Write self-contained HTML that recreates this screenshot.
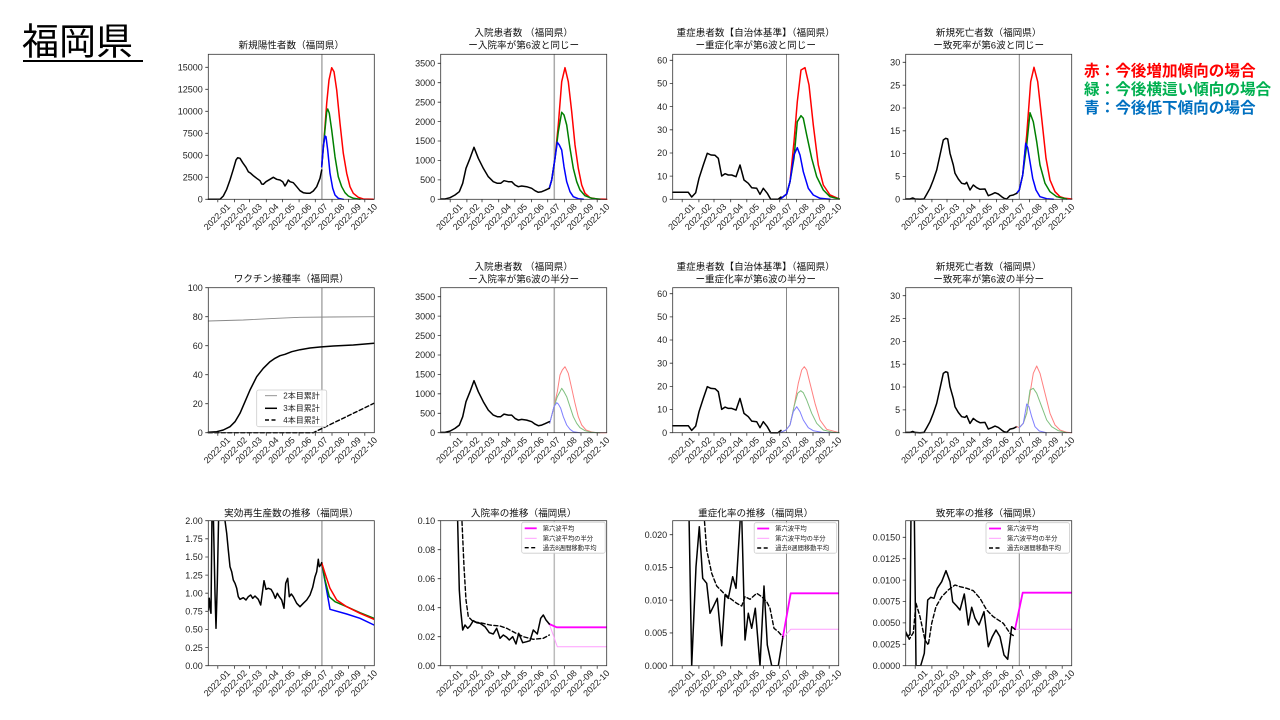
<!DOCTYPE html>
<html><head><meta charset="utf-8">
<style>
html,body{margin:0;padding:0;background:#fff;}
svg{display:block;}
text{font-family:"Liberation Sans","Noto Sans CJK JP",sans-serif;fill:#222;}
.t{font-family:"Liberation Sans","Noto Sans CJK JP",sans-serif;font-size:9.6px;text-anchor:middle;fill:#111;}
.yl{font-size:9px;text-anchor:end;}
.xl text{font-size:9px;text-anchor:end;}
.fr{fill:none;stroke:#333;stroke-width:0.8;}
.tk{stroke:#333;stroke-width:0.8;fill:none;}
.ln{fill:none;stroke-linejoin:round;stroke-linecap:round;}
.k{stroke:#000;stroke-width:1.5;}
.r{stroke:#ff0000;stroke-width:1.5;}
.g{stroke:#008000;stroke-width:1.5;}
.b{stroke:#0000ff;stroke-width:1.5;}
.rl{stroke:#ff8080;stroke-width:1;}
.gl{stroke:#80c080;stroke-width:1;}
.bl{stroke:#8080ff;stroke-width:1;}
.m{stroke:#ff00ff;stroke-width:1.8;}
.ml{stroke:#ff9eff;stroke-width:1;}
.d{stroke:#000;stroke-width:1.4;stroke-dasharray:4,2.5;}
.lg text{font-size:6.3px;}
</style></head>
<body>
<svg width="1280" height="720" viewBox="0 0 1280 720" xmlns="http://www.w3.org/2000/svg">
<defs>
<clipPath id="c9"><rect x="208.3" y="520.7" width="166" height="145"/></clipPath>
<clipPath id="c10"><rect x="440.7" y="520.7" width="166" height="145"/></clipPath>
<clipPath id="c11"><rect x="672.7" y="520.7" width="166" height="145"/></clipPath>
<clipPath id="c12"><rect x="905.7" y="520.7" width="166" height="145"/></clipPath>
</defs>

<!-- Main title -->
<text x="22" y="54.5" style="font-family:'Noto Sans CJK JP',sans-serif;font-size:37px;fill:#000;">福岡県</text>
<rect x="23" y="60" width="120" height="2" fill="#000"/>

<!-- Right legend -->
<text x="1084" y="76" style="font-family:'Noto Sans CJK JP',sans-serif;font-size:15.6px;font-weight:bold;fill:#ff0000;">赤：今後増加傾向の場合</text>
<text x="1084" y="94.5" style="font-family:'Noto Sans CJK JP',sans-serif;font-size:15.6px;font-weight:bold;fill:#00b050;">緑：今後横這い傾向の場合</text>
<text x="1084" y="113" style="font-family:'Noto Sans CJK JP',sans-serif;font-size:15.6px;font-weight:bold;fill:#0070c0;">青：今後低下傾向の場合</text>

<!-- Titles -->
<text class="t" x="291.3" y="48.5">新規陽性者数（福岡県）</text>
<text class="t" x="523.7" y="36">入院患者数 （福岡県）</text>
<text class="t" x="523.7" y="48.5">ー入院率が第6波と同じー</text>
<text class="t" x="755.7" y="36">重症患者数【自治体基準】（福岡県）</text>
<text class="t" x="755.7" y="48.5">ー重症化率が第6波と同じー</text>
<text class="t" x="988.7" y="36">新規死亡者数（福岡県）</text>
<text class="t" x="988.7" y="48.5">ー致死率が第6波と同じー</text>

<text class="t" x="291.3" y="282">ワクチン接種率（福岡県）</text>
<text class="t" x="523.7" y="270">入院患者数 （福岡県）</text>
<text class="t" x="523.7" y="282.5">ー入院率が第6波の半分ー</text>
<text class="t" x="755.7" y="270">重症患者数【自治体基準】（福岡県）</text>
<text class="t" x="755.7" y="282.5">ー重症化率が第6波の半分ー</text>
<text class="t" x="988.7" y="270">新規死亡者数（福岡県）</text>
<text class="t" x="988.7" y="282.5">ー致死率が第6波の半分ー</text>

<text class="t" x="291.3" y="516.3">実効再生産数の推移（福岡県）</text>
<text class="t" x="523.7" y="516.3">入院率の推移（福岡県）</text>
<text class="t" x="755.7" y="516.3">重症化率の推移（福岡県）</text>
<text class="t" x="988.7" y="516.3">致死率の推移（福岡県）</text>

<!-- Gray vertical lines -->
<g>
<line x1="321.9" y1="54.3" x2="321.9" y2="199.3" stroke="#aaa" stroke-width="1.5"/>
<line x1="554.3" y1="54.3" x2="554.3" y2="199.3" stroke="#aaa" stroke-width="1.5"/>
<line x1="786.5" y1="54.3" x2="786.5" y2="199.3" stroke="#888" stroke-width="1"/>
<line x1="1019.3" y1="54.3" x2="1019.3" y2="199.3" stroke="#888" stroke-width="1"/>
<line x1="321.9" y1="287.7" x2="321.9" y2="432.7" stroke="#aaa" stroke-width="1.5"/>
<line x1="554.3" y1="287.7" x2="554.3" y2="432.7" stroke="#aaa" stroke-width="1.5"/>
<line x1="786.5" y1="287.7" x2="786.5" y2="432.7" stroke="#888" stroke-width="1"/>
<line x1="1019.3" y1="287.7" x2="1019.3" y2="432.7" stroke="#888" stroke-width="1"/>
<line x1="321.9" y1="520.7" x2="321.9" y2="665.7" stroke="#aaa" stroke-width="1.5"/>
<line x1="554.3" y1="520.7" x2="554.3" y2="665.7" stroke="#bbb" stroke-width="1.5"/>
<line x1="786.5" y1="520.7" x2="786.5" y2="665.7" stroke="#888" stroke-width="1"/>
<line x1="1019.3" y1="520.7" x2="1019.3" y2="665.7" stroke="#888" stroke-width="1"/>
</g>

<!-- ===== Row 1 data ===== -->
<!-- Chart 1 -->
<polyline class="ln r" points="321.7,166.7 324,140 326.7,103.3 329,80 331.7,67.7 334,71.7 336.7,90 340,123.3 343.3,153.3 346.7,173.3 350,186.7 353.3,193.3 358.3,197.3 363.3,199 373.3,199.3"/>
<polyline class="ln g" points="321.7,166.7 324,140 326.7,111.7 327.7,109 329.3,113.3 331.7,130 335,156.7 338.3,176.7 341.7,186.7 345,192.7 348.3,196 353.3,198.3 360,199.3"/>
<polyline class="ln b" points="321.7,166.7 323.3,146.7 325,136 326,136.7 327.7,150 330,173.3 332.7,188.3 335,195 338.3,198.3 343.3,199.3"/>
<polyline class="ln k" points="208.3,199.3 220,199.3 223.3,196 226.7,189.3 230,180 233.3,169.3 236,160 237.7,157.7 240,158.3 242.7,162.7 246,167.3 248.3,171.7 250.7,173.3 253.3,175.7 256.7,178.3 260,180.7 261.7,184 263.3,184.3 266,181.7 270,179.3 273.3,177.3 276.7,179.3 280,180 282.7,181.7 285,186 286.7,183.3 288.3,180 290,181.7 293.3,182.7 296.7,186.7 300,190.7 303.3,192.7 306.7,193.3 310,193.3 313.3,191 316.7,186.7 320,178.3 321.7,170"/>

<!-- Chart 2 -->
<polyline class="ln r" points="549.3,188.3 551.7,180 555,158.3 558.3,125 561.7,81.7 565,67.7 568.3,81.7 571.7,111.7 575,145 578.3,168.3 581.7,185 585,193.3 590,197.7 596.7,199 606.7,199.3"/>
<polyline class="ln g" points="549.3,188.3 551.7,180 555,158.3 558.3,131.7 561.7,112.3 564,115 566.7,125 570,148.3 573.3,168.3 576.7,181.7 580,190 585,195.7 591.7,198.3 600,199.3"/>
<polyline class="ln b" points="549.3,188.3 551.7,180 555,158.3 557.3,142.3 559.3,145 561.7,150 564,166.7 566.7,181.7 570,191.7 573.3,196.7 578.3,198.7 583.3,199.3"/>
<polyline id="k2" class="ln k" points="440.7,199 445,199 450,197.7 455,195 459.3,191.7 462.7,183.3 466,168.3 470,158.3 474,147.3 478.3,158.3 483.3,168.3 488.3,176.7 493.3,181.7 497.3,183.3 500.7,183.3 504,180.7 508.3,181.7 511.7,181.7 515,185 518.3,186.7 521.7,186 526.7,186.7 531.7,188.3 535,190.7 538.3,192.3 541.7,191.7 545,190.3 549.3,188.3"/>

<!-- Chart 3 -->
<polyline class="ln r" points="780,199.3 786.7,194 790,181.7 794,141.7 797.3,101.7 801,70 805,67.7 809,85 813.3,125 818.3,165 823.3,185 830,195 839.3,199"/>
<polyline class="ln g" points="780,199.3 786.7,194 790,181.7 794,158.3 797.3,121.7 801,115.7 803.3,118.3 806.7,135 811.7,158.3 816.7,176.7 823.3,190 830,196.7 839.3,199"/>
<polyline class="ln b" points="780,199.3 786.7,194 790,181.7 794,155 797.3,147.7 800,155 803.3,171.7 808.3,188.3 813.3,195 820,198.3 830,199.3"/>
<polyline class="ln k" points="672.7,192.3 688.3,192.3 691.7,197 695.7,192.7 699,178.3 703.3,165 707.3,153.3 711,155 715,155.3 718.3,158.3 721.7,176 725,173.7 728.3,175 731.7,175 736,176.7 740,165 744,180 748.3,183.3 751.7,187.7 756.7,188.3 760,194.3 763.3,188.3 767.3,193.3 770.7,199.3 778,199.3 781,197"/>

<!-- Chart 4 -->
<polyline class="ln r" points="1016.7,193.3 1019.3,190 1022.7,175 1026.7,135 1030.7,81.7 1034,67.3 1037.7,81.7 1041.7,118.3 1046,158.3 1050,180 1055,191.7 1060,196.7 1065,198.3 1071.7,199"/>
<polyline class="ln g" points="1016.7,193.3 1019.3,190 1022.7,175 1026.7,145 1030,112.7 1033.3,121.7 1036.7,141.7 1040,165 1045,183.3 1050,191.7 1056.7,196.7 1066.7,199"/>
<polyline class="ln b" points="1016.7,193.3 1019.3,190 1022.7,175 1025.7,143.3 1027.7,147.7 1030,161.7 1032.7,178.3 1036,190 1040,196.7 1046.7,198.7 1053.3,199.3"/>
<polyline class="ln k" points="905.7,199 910,199 912.7,198 915,199 920,199.3 924,199 926.7,194.3 930,188.3 933.3,180 936.7,170 940,155 943.3,140 945.7,138.3 947.7,139 950,153.3 953.3,165 955,173.3 958.3,179 961.7,183.3 965,184 966.7,182.3 970,190 973.3,185 976.7,187.7 980,189.3 985,189 988.3,195.7 991.7,194.3 995,192.7 998.3,194 1001.7,196.7 1004,198.3 1006.7,199 1010,195.7 1013.3,195 1016.7,193.3"/>

<!-- ===== Row 2 data ===== -->
<!-- Chart 5 vaccine -->
<polyline class="ln" stroke="#888" stroke-width="0.9" points="208.3,321 243.3,320 276.7,318.3 300,317.3 330,317 374,316.7"/>
<polyline class="ln k" points="208.3,432.3 216.7,431.7 223.3,430 230,426.7 235,421.7 240,413.3 245,401.7 250,390 256.7,376.7 263.3,368.3 270,361.7 275,358.3 280,355.7 285,354.3 291.7,351.7 300,349.7 310,348 320,347 333.3,346 353.3,345 374,343.3"/>
<polyline class="ln d" points="208.3,432.7 313.3,432.7 374,403.3"/>

<!-- Chart 6 -->
<polyline class="ln rl" points="549.7,423.3 554,406.7 557.3,391.7 560,375 562.3,370 565,366.7 568.3,373.3 571.7,388.3 575,403.3 578.3,416.7 581.7,425 586,430 591.7,432 596.7,432.7 606.7,432.7"/>
<polyline class="ln gl" points="549.7,423.3 554,406.7 557.3,396.7 560,391.7 561.7,388.3 564,391.7 566.7,396.7 570,406.7 573.3,416.7 576.7,423.3 580,427.7 585,430.7 591.7,432.3 600,432.7"/>
<polyline class="ln bl" points="549.7,423.3 554,406.7 556.7,402.7 558.3,404 560.7,408.3 563.3,416.7 566.7,425 570,429.3 573.3,431.7 580,432.7"/>
<g transform="translate(0,233.4)">
<polyline class="ln k" points="440.7,199 445,199 450,197.7 455,195 459.3,191.7 462.7,183.3 466,168.3 470,158.3 474,147.3 478.3,158.3 483.3,168.3 488.3,176.7 493.3,181.7 497.3,183.3 500.7,183.3 504,180.7 508.3,181.7 511.7,181.7 515,185 518.3,186.7 521.7,186 526.7,186.7 531.7,188.3 535,190.7 538.3,192.3 541.7,191.7 545,190.3 549.3,188.3"/>
<polyline class="ln k" points="672.7,192.3 688.3,192.3 691.7,197 695.7,192.7 699,178.3 703.3,165 707.3,153.3 711,155 715,155.3 718.3,158.3 721.7,176 725,173.7 728.3,175 731.7,175 736,176.7 740,165 744,180 748.3,183.3 751.7,187.7 756.7,188.3 760,194.3 763.3,188.3 767.3,193.3 770.7,199.3 778,199.3 781,197"/>
<polyline class="ln k" points="905.7,199 910,199 912.7,198 915,199 920,199.3 924,199 926.7,194.3 930,188.3 933.3,180 936.7,170 940,155 943.3,140 945.7,138.3 947.7,139 950,153.3 953.3,165 955,173.3 958.3,179 961.7,183.3 965,184 966.7,182.3 970,190 973.3,185 976.7,187.7 980,189.3 985,189 988.3,195.7 991.7,194.3 995,192.7 998.3,194 1001.7,196.7 1004,198.3 1006.7,199 1010,195.7 1013.3,195 1016.7,193.3"/>
</g>

<!-- Chart 7 -->
<polyline class="ln rl" points="780,432.7 786,430 790,425 794,406.7 798.3,383.3 801.7,370 804.3,366.7 806.7,370 810,383.3 815,403.3 820,420 826.7,429.3 839.3,432.7"/>
<polyline class="ln gl" points="780,432.7 786,430 790,425 794,406.7 797.7,393.3 800.7,390.7 803.3,392.7 806.7,400 811.7,413.3 816.7,423.3 823.3,430 833.3,432.3 839.3,432.7"/>
<polyline class="ln bl" points="780,432.7 786,430 790,425 793.3,411.7 796.7,406.7 800,411.7 803.3,420 808.3,427.7 813.3,430.7 821.7,432.3 830,432.7"/>

<!-- Chart 8 -->
<polyline class="ln rl" points="1016.7,426.7 1019.3,427.7 1023.3,423.3 1026.7,413.3 1030,393.3 1033.3,373.3 1036.7,366 1040,373.3 1045,393.3 1050,413.3 1055,425 1060,430 1066.7,432.3 1071.7,432.7"/>
<polyline class="ln gl" points="1019.3,427.7 1023.3,423.3 1026.7,413.3 1030,390 1033.3,388.3 1036.7,393.3 1041.7,406.7 1046.7,420 1051.7,426.7 1058.3,430.7 1066.7,432.7"/>
<polyline class="ln bl" points="1019.3,427.7 1023.3,423.3 1026.7,404 1029,406.7 1031.7,416.7 1035,426.7 1039.3,431 1046.7,432.7"/>

<!-- ===== Row 3 data ===== -->
<g clip-path="url(#c9)">
<polyline class="ln b" points="321.7,563.3 325.7,585 330,609.3 346.7,614 360,618.3 374,625"/>
<polyline class="ln g" points="321.7,562.7 325,580 329.3,596.7 335,601.7 346.7,606.7 360,612.7 374,618.3"/>
<polyline class="ln r" points="321.7,562.7 325,573.3 330,588.3 336.7,600 346.7,606.7 360,613.3 374,619.3"/>
<polyline class="ln k" points="208.3,610 209.3,598.3 210.3,610 211,613.3 212,513.3 213.3,513.3 215,593.3 216,628.3 217.3,583.3 218.7,513.3 223.3,513.3 225,520.7 226.7,533.3 228.3,550 230,566.7 231.7,571.7 233.3,580 235,583.3 236.7,588.3 238.3,596.7 240,599.3 243.3,597.7 246,600 248.3,596.7 250.7,595 252.7,598.3 255,596 258.3,599.3 260.7,605 262.3,593.3 264,580.7 266,589.3 268.3,588.3 271,589.3 273.3,593.3 275.3,598.3 277.3,593.3 279.3,596.7 281.7,600 284,608.3 285.7,583.3 287.7,578.3 289.3,596.7 291.3,594 293.3,596.7 296.7,603.3 300,606.7 303.3,603.3 306.7,600 310,595 312.7,587.3 315,576.7 316.7,571.7 318.3,559.3 319.3,566.7 320.7,565 321.7,562.7"/>
</g>
<g clip-path="url(#c10)">
<polyline class="ln ml" points="549.3,624 557.3,646.7 606.7,646.7"/>
<polyline class="ln m" points="549.3,624 556.7,627.3 606.7,627.3"/>
<polyline class="ln d" points="461.7,515 464,566.7 466,600 468.3,616.7 473.3,621.7 480,622.7 490,625 500,626 506.7,628.3 515,632.7 523.3,636.7 533.3,639.3 543.3,638.3 549.3,635"/>
<polyline class="ln k" points="457.5,515 459.3,590 460.7,610 462.7,630 465,625 467.7,628.3 470,626 473.3,620.7 476.7,622.7 480,623.3 485,626.7 489.3,632.7 493.3,634 496.7,628.3 500,638.3 503.3,635 506.7,637.3 509.3,640 512.7,636.7 516,644 518.7,633.3 522.7,642.7 526.7,641.7 530,640.7 533.3,630 537.3,634 540.7,618.3 543.3,615 546,620 549.3,624"/>
</g>
<g clip-path="url(#c11)">
<polyline class="ln ml" points="782.7,638.3 790.7,629.3 839.3,629.3"/>
<polyline class="ln m" points="782.7,638.3 790.7,593.3 839.3,593.3"/>
<polyline class="ln d" points="704,515 706.7,550 711.7,573.3 716.7,586 723.3,592.7 730,598.3 736.7,603.3 741.7,606 745,596.7 750,599.3 756.7,593.3 761.7,596.7 766.7,601.7 770,608.3 774,628.3 778.3,631.7 782.7,636.7"/>
<polyline class="ln k" points="689,515 691.7,665.7 696,566.7 699.3,526.7 702.7,578.3 706.7,583.3 710,613.3 713.3,606.7 717.3,598.3 721.7,645.7 725,595 728.3,598.3 732.7,576.7 736,588.3 740.5,515 741.7,515 745,640 748.3,613.3 751.7,628.3 755.3,608.3 760,665.7 764,586 767.3,645 771.7,665.7 778.3,665.7 782.7,638.3"/>
</g>
<g clip-path="url(#c12)">
<polyline class="ln ml" points="1015,629.3 1072.3,629.3"/>
<polyline class="ln m" points="1015,629.3 1022.7,592.7 1072.3,592.7"/>
<polyline class="ln d" points="905.7,631.7 909.3,639.3 913.3,632.7 916,603.3 920,616.7 925,640 928.3,645 931.7,623.3 936,606.7 941.7,596.7 948.3,590 955,585 960,586.7 966.7,588.3 973.3,590.7 980,598.3 986.7,610 993.3,616.7 1003.3,623.3 1010,633.3 1015,636.7"/>
<polyline class="ln k" points="905.7,633.3 907.7,636.7 910,634.3 911,513 914.3,513 916,665.7 920.7,665.7 924.3,653.3 927.7,600 930.7,597.3 934,598.3 937.3,588.3 941.7,581.7 946,570.7 950,581.7 952.7,601.7 956.7,606 960,610 964.3,594 968.3,625 971.7,607.3 975,618.3 979,625 984,611.7 988.3,646.7 992.3,636.7 996,630 1000,636.7 1004,655 1007.7,659.3 1011.7,626.7 1015,629.3"/>
</g>

<!-- ===== Frames, ticks, labels ===== -->
<!-- Chart 1 -->
<g transform="translate(208.3,54.3)">
<rect class="fr" width="166" height="145"/>
<path class="tk" d="M0,145h-3M0,123h-3M0,101h-3M0,79h-3M0,57h-3M0,35h-3M0,13h-3"/>
<path class="tk" d="M9.5,145v3M26.2,145v3M41.3,145v3M58,145v3M74.1,145v3M90.8,145v3M107,145v3M123.7,145v3M140.3,145v3M156.5,145v3"/>
<text class="yl" x="-5.5" y="148.2">0</text><text class="yl" x="-5.5" y="126.2">2500</text><text class="yl" x="-5.5" y="104.2">5000</text><text class="yl" x="-5.5" y="82.2">7500</text><text class="yl" x="-5.5" y="60.2">10000</text><text class="yl" x="-5.5" y="38.2">12500</text><text class="yl" x="-5.5" y="16.2">15000</text>
<g class="xl"><text transform="translate(22.5,153) rotate(-45)">2022-01</text><text transform="translate(39.2,153) rotate(-45)">2022-02</text><text transform="translate(54.3,153) rotate(-45)">2022-03</text><text transform="translate(71,153) rotate(-45)">2022-04</text><text transform="translate(87.1,153) rotate(-45)">2022-05</text><text transform="translate(103.8,153) rotate(-45)">2022-06</text><text transform="translate(120,153) rotate(-45)">2022-07</text><text transform="translate(136.7,153) rotate(-45)">2022-08</text><text transform="translate(153.3,153) rotate(-45)">2022-09</text><text transform="translate(169.5,153) rotate(-45)">2022-10</text></g>
</g>

<!-- Chart 2 -->
<g transform="translate(440.7,54.3)">
<rect class="fr" width="166" height="145"/>
<path class="tk" d="M0,145h-3M0,125.6h-3M0,106.1h-3M0,86.7h-3M0,67.3h-3M0,47.9h-3M0,28.4h-3M0,9h-3"/>
<path class="tk" d="M9.5,145v3M26.2,145v3M41.3,145v3M58,145v3M74.1,145v3M90.8,145v3M107,145v3M123.7,145v3M140.3,145v3M156.5,145v3"/>
<text class="yl" x="-5.5" y="148.2">0</text><text class="yl" x="-5.5" y="128.8">500</text><text class="yl" x="-5.5" y="109.3">1000</text><text class="yl" x="-5.5" y="89.9">1500</text><text class="yl" x="-5.5" y="70.5">2000</text><text class="yl" x="-5.5" y="51.1">2500</text><text class="yl" x="-5.5" y="31.6">3000</text><text class="yl" x="-5.5" y="12.2">3500</text>
<g class="xl"><text transform="translate(22.5,153) rotate(-45)">2022-01</text><text transform="translate(39.2,153) rotate(-45)">2022-02</text><text transform="translate(54.3,153) rotate(-45)">2022-03</text><text transform="translate(71,153) rotate(-45)">2022-04</text><text transform="translate(87.1,153) rotate(-45)">2022-05</text><text transform="translate(103.8,153) rotate(-45)">2022-06</text><text transform="translate(120,153) rotate(-45)">2022-07</text><text transform="translate(136.7,153) rotate(-45)">2022-08</text><text transform="translate(153.3,153) rotate(-45)">2022-09</text><text transform="translate(169.5,153) rotate(-45)">2022-10</text></g>
</g>

<!-- Chart 3 -->
<g transform="translate(672.7,54.3)">
<rect class="fr" width="166" height="145"/>
<path class="tk" d="M0,145h-3M0,121.8h-3M0,98.7h-3M0,75.5h-3M0,52.3h-3M0,29.2h-3M0,6h-3"/>
<path class="tk" d="M9.5,145v3M26.2,145v3M41.3,145v3M58,145v3M74.1,145v3M90.8,145v3M107,145v3M123.7,145v3M140.3,145v3M156.5,145v3"/>
<text class="yl" x="-5.5" y="148.2">0</text><text class="yl" x="-5.5" y="125">10</text><text class="yl" x="-5.5" y="101.9">20</text><text class="yl" x="-5.5" y="78.7">30</text><text class="yl" x="-5.5" y="55.5">40</text><text class="yl" x="-5.5" y="32.4">50</text><text class="yl" x="-5.5" y="9.2">60</text>
<g class="xl"><text transform="translate(22.5,153) rotate(-45)">2022-01</text><text transform="translate(39.2,153) rotate(-45)">2022-02</text><text transform="translate(54.3,153) rotate(-45)">2022-03</text><text transform="translate(71,153) rotate(-45)">2022-04</text><text transform="translate(87.1,153) rotate(-45)">2022-05</text><text transform="translate(103.8,153) rotate(-45)">2022-06</text><text transform="translate(120,153) rotate(-45)">2022-07</text><text transform="translate(136.7,153) rotate(-45)">2022-08</text><text transform="translate(153.3,153) rotate(-45)">2022-09</text><text transform="translate(169.5,153) rotate(-45)">2022-10</text></g>
</g>

<!-- Chart 4 -->
<g transform="translate(905.7,54.3)">
<rect class="fr" width="166" height="145"/>
<path class="tk" d="M0,145h-3M0,122.2h-3M0,99.3h-3M0,76.5h-3M0,53.7h-3M0,30.9h-3M0,8h-3"/>
<path class="tk" d="M9.5,145v3M26.2,145v3M41.3,145v3M58,145v3M74.1,145v3M90.8,145v3M107,145v3M123.7,145v3M140.3,145v3M156.5,145v3"/>
<text class="yl" x="-5.5" y="148.2">0</text><text class="yl" x="-5.5" y="125.4">5</text><text class="yl" x="-5.5" y="102.5">10</text><text class="yl" x="-5.5" y="79.7">15</text><text class="yl" x="-5.5" y="56.9">20</text><text class="yl" x="-5.5" y="34.1">25</text><text class="yl" x="-5.5" y="11.2">30</text>
<g class="xl"><text transform="translate(22.5,153) rotate(-45)">2022-01</text><text transform="translate(39.2,153) rotate(-45)">2022-02</text><text transform="translate(54.3,153) rotate(-45)">2022-03</text><text transform="translate(71,153) rotate(-45)">2022-04</text><text transform="translate(87.1,153) rotate(-45)">2022-05</text><text transform="translate(103.8,153) rotate(-45)">2022-06</text><text transform="translate(120,153) rotate(-45)">2022-07</text><text transform="translate(136.7,153) rotate(-45)">2022-08</text><text transform="translate(153.3,153) rotate(-45)">2022-09</text><text transform="translate(169.5,153) rotate(-45)">2022-10</text></g>
</g>

<!-- Chart 5 -->
<g transform="translate(208.3,287.7)">
<rect class="fr" width="166" height="145"/>
<path class="tk" d="M0,145h-3M0,116h-3M0,87h-3M0,58h-3M0,29h-3M0,0h-3"/>
<path class="tk" d="M9.5,145v3M26.2,145v3M41.3,145v3M58,145v3M74.1,145v3M90.8,145v3M107,145v3M123.7,145v3M140.3,145v3M156.5,145v3"/>
<text class="yl" x="-5.5" y="148.2">0</text><text class="yl" x="-5.5" y="119.2">20</text><text class="yl" x="-5.5" y="90.2">40</text><text class="yl" x="-5.5" y="61.2">60</text><text class="yl" x="-5.5" y="32.2">80</text><text class="yl" x="-5.5" y="3.2">100</text>
<g class="xl"><text transform="translate(22.5,153) rotate(-45)">2022-01</text><text transform="translate(39.2,153) rotate(-45)">2022-02</text><text transform="translate(54.3,153) rotate(-45)">2022-03</text><text transform="translate(71,153) rotate(-45)">2022-04</text><text transform="translate(87.1,153) rotate(-45)">2022-05</text><text transform="translate(103.8,153) rotate(-45)">2022-06</text><text transform="translate(120,153) rotate(-45)">2022-07</text><text transform="translate(136.7,153) rotate(-45)">2022-08</text><text transform="translate(153.3,153) rotate(-45)">2022-09</text><text transform="translate(169.5,153) rotate(-45)">2022-10</text></g>
<g>
<rect x="48.4" y="102.3" width="70" height="36.7" rx="2" fill="#fff" fill-opacity="0.85" stroke="#ccc" stroke-width="0.8"/>
<line x1="56.7" y1="108" x2="68.7" y2="108" stroke="#888" stroke-width="0.9"/>
<line x1="56.7" y1="120.6" x2="68.7" y2="120.6" stroke="#000" stroke-width="1.5"/>
<line x1="56.7" y1="132.3" x2="68.7" y2="132.3" stroke="#000" stroke-width="1.4" stroke-dasharray="4,2.5"/>
<text x="75" y="110.8" style="font-size:8px;">2本目累計</text>
<text x="75" y="123.4" style="font-size:8px;">3本目累計</text>
<text x="75" y="135.1" style="font-size:8px;">4本目累計</text>
</g>
</g>

<!-- Chart 6 -->
<g transform="translate(440.7,287.7)">
<rect class="fr" width="166" height="145"/>
<path class="tk" d="M0,145h-3M0,125.6h-3M0,106.1h-3M0,86.7h-3M0,67.3h-3M0,47.9h-3M0,28.4h-3M0,9h-3"/>
<path class="tk" d="M9.5,145v3M26.2,145v3M41.3,145v3M58,145v3M74.1,145v3M90.8,145v3M107,145v3M123.7,145v3M140.3,145v3M156.5,145v3"/>
<text class="yl" x="-5.5" y="148.2">0</text><text class="yl" x="-5.5" y="128.8">500</text><text class="yl" x="-5.5" y="109.3">1000</text><text class="yl" x="-5.5" y="89.9">1500</text><text class="yl" x="-5.5" y="70.5">2000</text><text class="yl" x="-5.5" y="51.1">2500</text><text class="yl" x="-5.5" y="31.6">3000</text><text class="yl" x="-5.5" y="12.2">3500</text>
<g class="xl"><text transform="translate(22.5,153) rotate(-45)">2022-01</text><text transform="translate(39.2,153) rotate(-45)">2022-02</text><text transform="translate(54.3,153) rotate(-45)">2022-03</text><text transform="translate(71,153) rotate(-45)">2022-04</text><text transform="translate(87.1,153) rotate(-45)">2022-05</text><text transform="translate(103.8,153) rotate(-45)">2022-06</text><text transform="translate(120,153) rotate(-45)">2022-07</text><text transform="translate(136.7,153) rotate(-45)">2022-08</text><text transform="translate(153.3,153) rotate(-45)">2022-09</text><text transform="translate(169.5,153) rotate(-45)">2022-10</text></g>
</g>

<!-- Chart 7 -->
<g transform="translate(672.7,287.7)">
<rect class="fr" width="166" height="145"/>
<path class="tk" d="M0,145h-3M0,121.8h-3M0,98.7h-3M0,75.5h-3M0,52.3h-3M0,29.2h-3M0,6h-3"/>
<path class="tk" d="M9.5,145v3M26.2,145v3M41.3,145v3M58,145v3M74.1,145v3M90.8,145v3M107,145v3M123.7,145v3M140.3,145v3M156.5,145v3"/>
<text class="yl" x="-5.5" y="148.2">0</text><text class="yl" x="-5.5" y="125">10</text><text class="yl" x="-5.5" y="101.9">20</text><text class="yl" x="-5.5" y="78.7">30</text><text class="yl" x="-5.5" y="55.5">40</text><text class="yl" x="-5.5" y="32.4">50</text><text class="yl" x="-5.5" y="9.2">60</text>
<g class="xl"><text transform="translate(22.5,153) rotate(-45)">2022-01</text><text transform="translate(39.2,153) rotate(-45)">2022-02</text><text transform="translate(54.3,153) rotate(-45)">2022-03</text><text transform="translate(71,153) rotate(-45)">2022-04</text><text transform="translate(87.1,153) rotate(-45)">2022-05</text><text transform="translate(103.8,153) rotate(-45)">2022-06</text><text transform="translate(120,153) rotate(-45)">2022-07</text><text transform="translate(136.7,153) rotate(-45)">2022-08</text><text transform="translate(153.3,153) rotate(-45)">2022-09</text><text transform="translate(169.5,153) rotate(-45)">2022-10</text></g>
</g>

<!-- Chart 8 -->
<g transform="translate(905.7,287.7)">
<rect class="fr" width="166" height="145"/>
<path class="tk" d="M0,145h-3M0,122.2h-3M0,99.3h-3M0,76.5h-3M0,53.7h-3M0,30.9h-3M0,8h-3"/>
<path class="tk" d="M9.5,145v3M26.2,145v3M41.3,145v3M58,145v3M74.1,145v3M90.8,145v3M107,145v3M123.7,145v3M140.3,145v3M156.5,145v3"/>
<text class="yl" x="-5.5" y="148.2">0</text><text class="yl" x="-5.5" y="125.4">5</text><text class="yl" x="-5.5" y="102.5">10</text><text class="yl" x="-5.5" y="79.7">15</text><text class="yl" x="-5.5" y="56.9">20</text><text class="yl" x="-5.5" y="34.1">25</text><text class="yl" x="-5.5" y="11.2">30</text>
<g class="xl"><text transform="translate(22.5,153) rotate(-45)">2022-01</text><text transform="translate(39.2,153) rotate(-45)">2022-02</text><text transform="translate(54.3,153) rotate(-45)">2022-03</text><text transform="translate(71,153) rotate(-45)">2022-04</text><text transform="translate(87.1,153) rotate(-45)">2022-05</text><text transform="translate(103.8,153) rotate(-45)">2022-06</text><text transform="translate(120,153) rotate(-45)">2022-07</text><text transform="translate(136.7,153) rotate(-45)">2022-08</text><text transform="translate(153.3,153) rotate(-45)">2022-09</text><text transform="translate(169.5,153) rotate(-45)">2022-10</text></g>
</g>

<!-- Chart 9 -->
<g transform="translate(208.3,520.7)">
<rect class="fr" width="166" height="145"/>
<path class="tk" d="M0,145h-3M0,126.9h-3M0,108.8h-3M0,90.6h-3M0,72.5h-3M0,54.4h-3M0,36.3h-3M0,18.1h-3M0,0h-3"/>
<path class="tk" d="M9.5,145v3M26.2,145v3M41.3,145v3M58,145v3M74.1,145v3M90.8,145v3M107,145v3M123.7,145v3M140.3,145v3M156.5,145v3"/>
<text class="yl" x="-5.5" y="148.2">0.00</text><text class="yl" x="-5.5" y="130.1">0.25</text><text class="yl" x="-5.5" y="112">0.50</text><text class="yl" x="-5.5" y="93.8">0.75</text><text class="yl" x="-5.5" y="75.7">1.00</text><text class="yl" x="-5.5" y="57.6">1.25</text><text class="yl" x="-5.5" y="39.5">1.50</text><text class="yl" x="-5.5" y="21.3">1.75</text><text class="yl" x="-5.5" y="3.2">2.00</text>
<g class="xl"><text transform="translate(22.5,153) rotate(-45)">2022-01</text><text transform="translate(39.2,153) rotate(-45)">2022-02</text><text transform="translate(54.3,153) rotate(-45)">2022-03</text><text transform="translate(71,153) rotate(-45)">2022-04</text><text transform="translate(87.1,153) rotate(-45)">2022-05</text><text transform="translate(103.8,153) rotate(-45)">2022-06</text><text transform="translate(120,153) rotate(-45)">2022-07</text><text transform="translate(136.7,153) rotate(-45)">2022-08</text><text transform="translate(153.3,153) rotate(-45)">2022-09</text><text transform="translate(169.5,153) rotate(-45)">2022-10</text></g>
</g>

<!-- Chart 10 -->
<g transform="translate(440.7,520.7)">
<rect class="fr" width="166" height="145"/>
<path class="tk" d="M0,145h-3M0,116h-3M0,87h-3M0,58h-3M0,29h-3M0,0h-3"/>
<path class="tk" d="M9.5,145v3M26.2,145v3M41.3,145v3M58,145v3M74.1,145v3M90.8,145v3M107,145v3M123.7,145v3M140.3,145v3M156.5,145v3"/>
<text class="yl" x="-5.5" y="148.2">0.00</text><text class="yl" x="-5.5" y="119.2">0.02</text><text class="yl" x="-5.5" y="90.2">0.04</text><text class="yl" x="-5.5" y="61.2">0.06</text><text class="yl" x="-5.5" y="32.2">0.08</text><text class="yl" x="-5.5" y="3.2">0.10</text>
<g class="xl"><text transform="translate(22.5,153) rotate(-45)">2022-01</text><text transform="translate(39.2,153) rotate(-45)">2022-02</text><text transform="translate(54.3,153) rotate(-45)">2022-03</text><text transform="translate(71,153) rotate(-45)">2022-04</text><text transform="translate(87.1,153) rotate(-45)">2022-05</text><text transform="translate(103.8,153) rotate(-45)">2022-06</text><text transform="translate(120,153) rotate(-45)">2022-07</text><text transform="translate(136.7,153) rotate(-45)">2022-08</text><text transform="translate(153.3,153) rotate(-45)">2022-09</text><text transform="translate(169.5,153) rotate(-45)">2022-10</text></g>
<g class="lg">
<rect x="81" y="1.5" width="83.5" height="31" rx="2" fill="#fff" fill-opacity="0.85" stroke="#ccc" stroke-width="0.8"/>
<line x1="84" y1="7.6" x2="96" y2="7.6" stroke="#ff00ff" stroke-width="1.8"/>
<line x1="84" y1="17.6" x2="96" y2="17.6" stroke="#ff9eff" stroke-width="1"/>
<line x1="84" y1="27" x2="96" y2="27" stroke="#000" stroke-width="1.4" stroke-dasharray="4,2.5"/>
<text x="102" y="9.8">第六波平均</text>
<text x="102" y="19.8">第六波平均の半分</text>
<text x="102" y="29.2">過去8週間移動平均</text>
</g>
</g>

<!-- Chart 11 -->
<g transform="translate(672.7,520.7)">
<rect class="fr" width="166" height="145"/>
<path class="tk" d="M0,145h-3M0,112.25h-3M0,79.5h-3M0,46.75h-3M0,14h-3"/>
<path class="tk" d="M9.5,145v3M26.2,145v3M41.3,145v3M58,145v3M74.1,145v3M90.8,145v3M107,145v3M123.7,145v3M140.3,145v3M156.5,145v3"/>
<text class="yl" x="-5.5" y="148.2">0.000</text><text class="yl" x="-5.5" y="115.5">0.005</text><text class="yl" x="-5.5" y="82.7">0.010</text><text class="yl" x="-5.5" y="50">0.015</text><text class="yl" x="-5.5" y="17.2">0.020</text>
<g class="xl"><text transform="translate(22.5,153) rotate(-45)">2022-01</text><text transform="translate(39.2,153) rotate(-45)">2022-02</text><text transform="translate(54.3,153) rotate(-45)">2022-03</text><text transform="translate(71,153) rotate(-45)">2022-04</text><text transform="translate(87.1,153) rotate(-45)">2022-05</text><text transform="translate(103.8,153) rotate(-45)">2022-06</text><text transform="translate(120,153) rotate(-45)">2022-07</text><text transform="translate(136.7,153) rotate(-45)">2022-08</text><text transform="translate(153.3,153) rotate(-45)">2022-09</text><text transform="translate(169.5,153) rotate(-45)">2022-10</text></g>
<g class="lg">
<rect x="81.5" y="2" width="82.5" height="30.5" rx="2" fill="#fff" fill-opacity="0.85" stroke="#ccc" stroke-width="0.8"/>
<line x1="84.5" y1="7.8" x2="96.5" y2="7.8" stroke="#ff00ff" stroke-width="1.8"/>
<line x1="84.5" y1="17.6" x2="96.5" y2="17.6" stroke="#ff9eff" stroke-width="1"/>
<line x1="84.5" y1="27.3" x2="96.5" y2="27.3" stroke="#000" stroke-width="1.4" stroke-dasharray="4,2.5"/>
<text x="102.5" y="10">第六波平均</text>
<text x="102.5" y="19.8">第六波平均の半分</text>
<text x="102.5" y="29.5">過去8週間移動平均</text>
</g>
</g>

<!-- Chart 12 -->
<g transform="translate(905.7,520.7)">
<rect class="fr" width="166" height="145"/>
<path class="tk" d="M0,145h-3M0,123.6h-3M0,102.2h-3M0,80.8h-3M0,59.4h-3M0,38h-3M0,16.6h-3"/>
<path class="tk" d="M9.5,145v3M26.2,145v3M41.3,145v3M58,145v3M74.1,145v3M90.8,145v3M107,145v3M123.7,145v3M140.3,145v3M156.5,145v3"/>
<text class="yl" x="-5.5" y="148.2">0.0000</text><text class="yl" x="-5.5" y="126.8">0.0025</text><text class="yl" x="-5.5" y="105.4">0.0050</text><text class="yl" x="-5.5" y="84">0.0075</text><text class="yl" x="-5.5" y="62.6">0.0100</text><text class="yl" x="-5.5" y="41.2">0.0125</text><text class="yl" x="-5.5" y="19.8">0.0150</text>
<g class="xl"><text transform="translate(22.5,153) rotate(-45)">2022-01</text><text transform="translate(39.2,153) rotate(-45)">2022-02</text><text transform="translate(54.3,153) rotate(-45)">2022-03</text><text transform="translate(71,153) rotate(-45)">2022-04</text><text transform="translate(87.1,153) rotate(-45)">2022-05</text><text transform="translate(103.8,153) rotate(-45)">2022-06</text><text transform="translate(120,153) rotate(-45)">2022-07</text><text transform="translate(136.7,153) rotate(-45)">2022-08</text><text transform="translate(153.3,153) rotate(-45)">2022-09</text><text transform="translate(169.5,153) rotate(-45)">2022-10</text></g>
<g class="lg">
<rect x="80.3" y="2" width="83.5" height="30.5" rx="2" fill="#fff" fill-opacity="0.85" stroke="#ccc" stroke-width="0.8"/>
<line x1="83.3" y1="7.8" x2="95.3" y2="7.8" stroke="#ff00ff" stroke-width="1.8"/>
<line x1="83.3" y1="17.6" x2="95.3" y2="17.6" stroke="#ff9eff" stroke-width="1"/>
<line x1="83.3" y1="27.3" x2="95.3" y2="27.3" stroke="#000" stroke-width="1.4" stroke-dasharray="4,2.5"/>
<text x="101.3" y="10">第六波平均</text>
<text x="101.3" y="19.8">第六波平均の半分</text>
<text x="101.3" y="29.5">過去8週間移動平均</text>
</g>
</g>

</svg>
</body></html>
